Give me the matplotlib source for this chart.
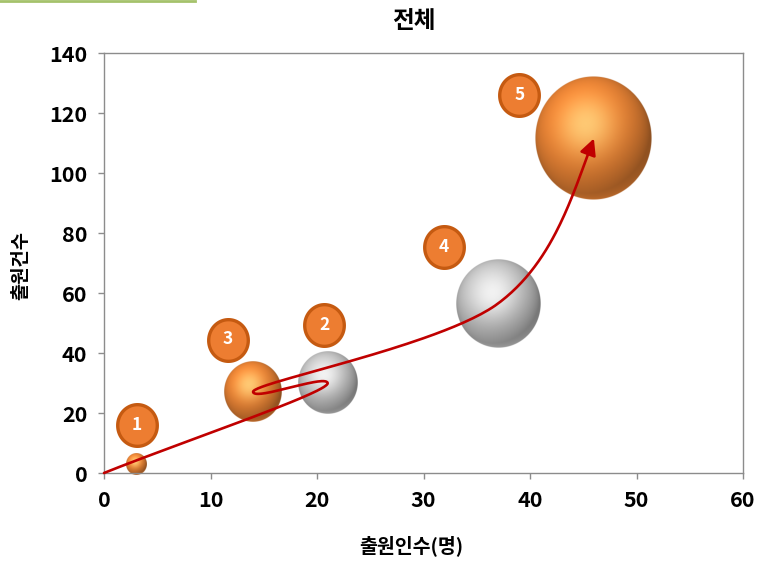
import numpy as np
import matplotlib
matplotlib.use("Agg")
import matplotlib.pyplot as plt
from matplotlib.lines import Line2D
from matplotlib.path import Path

plt.rcParams['font.family'] = ['Noto Sans CJK KR', 'DejaVu Sans']

# Bubble data: applicants (x), applications (y), relative bubble size, by period
applicants = [3, 21, 14, 37, 46]
applications = [3, 30, 27, 56.5, 111.5]
bubble_size = [3, 26, 24, 52, 100]
bubble_kind = ['orange', 'silver', 'orange', 'silver', 'orange']

# Period badges
badge_x = [3.1, 20.7, 11.6, 31.9, 39.0]
badge_y = [16, 49.5, 44.5, 75.5, 126]
badge_text = ['1', '2', '3', '4', '5']

x_ticks = [0, 10, 20, 30, 40, 50, 60]
y_ticks = [0, 20, 40, 60, 80, 100, 120, 140]

title = '전체'
x_label = '출원인수(명)'
y_label = '출원건수'

W, H, DPI = 7.6, 5.63, 100
fig = plt.figure(figsize=(W, H), dpi=DPI)
ax = fig.add_axes([104 / 760, 1 - 473 / 563, 639 / 760, 420 / 563])
ax.set_xlim(0, 60)
ax.set_ylim(0, 140)

spine_c = '#8c8c8c'
for s in ax.spines.values():
    s.set_color(spine_c)
    s.set_linewidth(1.0)
ax.set_xticks(x_ticks)
ax.set_yticks(y_ticks)
ax.tick_params(axis='both', direction='out', length=4, width=1, color=spine_c,
               labelsize=15.5, pad=8)
for lab in ax.get_xticklabels() + ax.get_yticklabels():
    lab.set_fontweight('bold')

ax.set_title(title, fontsize=17, fontweight='bold', x=(414 - 104) / 639,
             y=(473 - 21) / 420, va='center', pad=0)
ax.set_xlabel(x_label, fontsize=14, fontweight='bold', va='center')
ax.xaxis.set_label_coords((411 - 104) / 639, (473 - 546) / 420)
ax.set_ylabel(y_label, fontsize=13.5, fontweight='bold', va='center')
ax.yaxis.set_label_coords((21 - 104) / 639, (473 - 265) / 420)

fig.canvas.draw()
to_px = ax.transData
to_data = ax.transData.inverted()

MAX_R = 61.5   # vertical pixel radius of the largest bubble
X_SQUEEZE = 0.95


def sphere_rgba(base, highlight, n=256):
    g = np.linspace(-1, 1, n)
    u, v = np.meshgrid(g, g)  # row 0 = bottom when origin='lower'
    d = np.sqrt(u ** 2 + v ** 2)
    w = np.sqrt(np.clip(1 - d ** 2, 0, 1))
    L = np.array([-0.25, 0.45, 0.86]); L /= np.linalg.norm(L)
    Hv = L + np.array([0, 0, 1.0]); Hv /= np.linalg.norm(Hv)
    diff = np.clip(u * L[0] + v * L[1] + w * L[2], 0, 1)
    spec = np.clip(u * Hv[0] + v * Hv[1] + w * Hv[2], 0, 1) ** 9
    base = np.array(base) / 255.0
    hi = np.array(highlight) / 255.0
    col = base[None, None, :] * (0.6 + 0.48 * diff[..., None])
    # soft reflected light near the lower rim
    rim = np.clip(-v, 0, 1) ** 2 * np.clip(1 - w, 0, 1) * 0.22
    col = col + rim[..., None] * base[None, None, :]
    col = col + spec[..., None] * (hi[None, None, :] - col) * 0.7
    col = np.clip(col, 0, 1)
    alpha = np.clip((1 - d) * n / 2, 0, 1)
    return np.dstack([col, alpha])


styles = {
    'orange': ((238, 134, 54), (255, 225, 140)),
    'silver': ((198, 198, 198), (255, 255, 255)),
}

centers_px = []
for x, y, s, kind in zip(applicants, applications, bubble_size, bubble_kind):
    cx, cy = to_px.transform((x, y))
    centers_px.append((cx, cy))
    ry = MAX_R * np.sqrt(s / max(bubble_size))
    rx = ry * X_SQUEEZE
    x0, y0 = to_data.transform((cx - rx, cy - ry))
    x1, y1 = to_data.transform((cx + rx, cy + ry))
    img = sphere_rgba(*styles[kind])
    ax.imshow(img, extent=(x0, x1, y0, y1), origin='lower', interpolation='antialiased',
              zorder=2, clip_on=False, aspect='auto')

ax.set_xlim(0, 60)
ax.set_ylim(0, 140)

# Trend curve: origin -> period 1 -> 2 -> 3 -> 4 -> 5, built in display space
# (display y grows upward)
origin_px = np.array(to_px.transform((0, 0)))
P = [origin_px] + [np.array(c) for c in centers_px[1:]]


def unit(v):
    return v / np.linalg.norm(v)


T = [P[1] - P[0]]
# hairpin turns at periods 2 and 3
for i in (1, 2):
    t = unit(P[i] - P[i - 1]) + unit(P[i + 1] - P[i])
    T.append(unit(t) * 28)
T.append((P[4] - P[2]) * 0.5)
# steep final approach into period 5
T.append(unit(np.array([0.36, 0.93])) * np.linalg.norm(P[4] - P[3]) * 0.9)

ss = np.linspace(0, 1, 60)
h00 = 2 * ss ** 3 - 3 * ss ** 2 + 1
h10 = ss ** 3 - 2 * ss ** 2 + ss
h01 = -2 * ss ** 3 + 3 * ss ** 2
h11 = ss ** 3 - ss ** 2
curve = []
for i in range(len(P) - 1):
    seg = (h00[:, None] * P[i] + h10[:, None] * T[i]
           + h01[:, None] * P[i + 1] + h11[:, None] * T[i + 1])
    curve.append(seg if i == 0 else seg[1:])
curve = np.vstack(curve)
curve_data = to_data.transform(curve)

red = '#C00000'
ax.plot(curve_data[:-3, 0], curve_data[:-3, 1], color=red, lw=1.9, zorder=4,
        clip_on=False, solid_capstyle='round')
ax.annotate('', xy=curve_data[-1], xytext=curve_data[-4],
            arrowprops=dict(arrowstyle='-|>,head_length=0.7,head_width=0.35',
                            color=red, lw=1.9, mutation_scale=14, shrinkA=0, shrinkB=0),
            zorder=5)

# Period badges (slightly tall ovals)
theta = np.linspace(0, 2 * np.pi, 90)
oval = Path(np.column_stack([0.95 * np.cos(theta), np.sin(theta)]), closed=True)
ax.scatter(badge_x, badge_y, s=900, marker=oval, c='#ED7D31', edgecolors='#C55A11',
           linewidths=2.4, zorder=6, clip_on=False)
for bx, by, bt in zip(badge_x, badge_y, badge_text):
    ax.text(bx, by, bt, ha='center', va='center', color='white', fontsize=12.5,
            fontweight='bold', zorder=7)

# thin accent bar along the top-left edge
fig.add_artist(Line2D([0, 195 / 760], [1 - 1 / 563, 1 - 1 / 563], color='#A5C26B',
                      lw=2.0, transform=fig.transFigure))

fig.savefig('out.png', dpi=DPI)
